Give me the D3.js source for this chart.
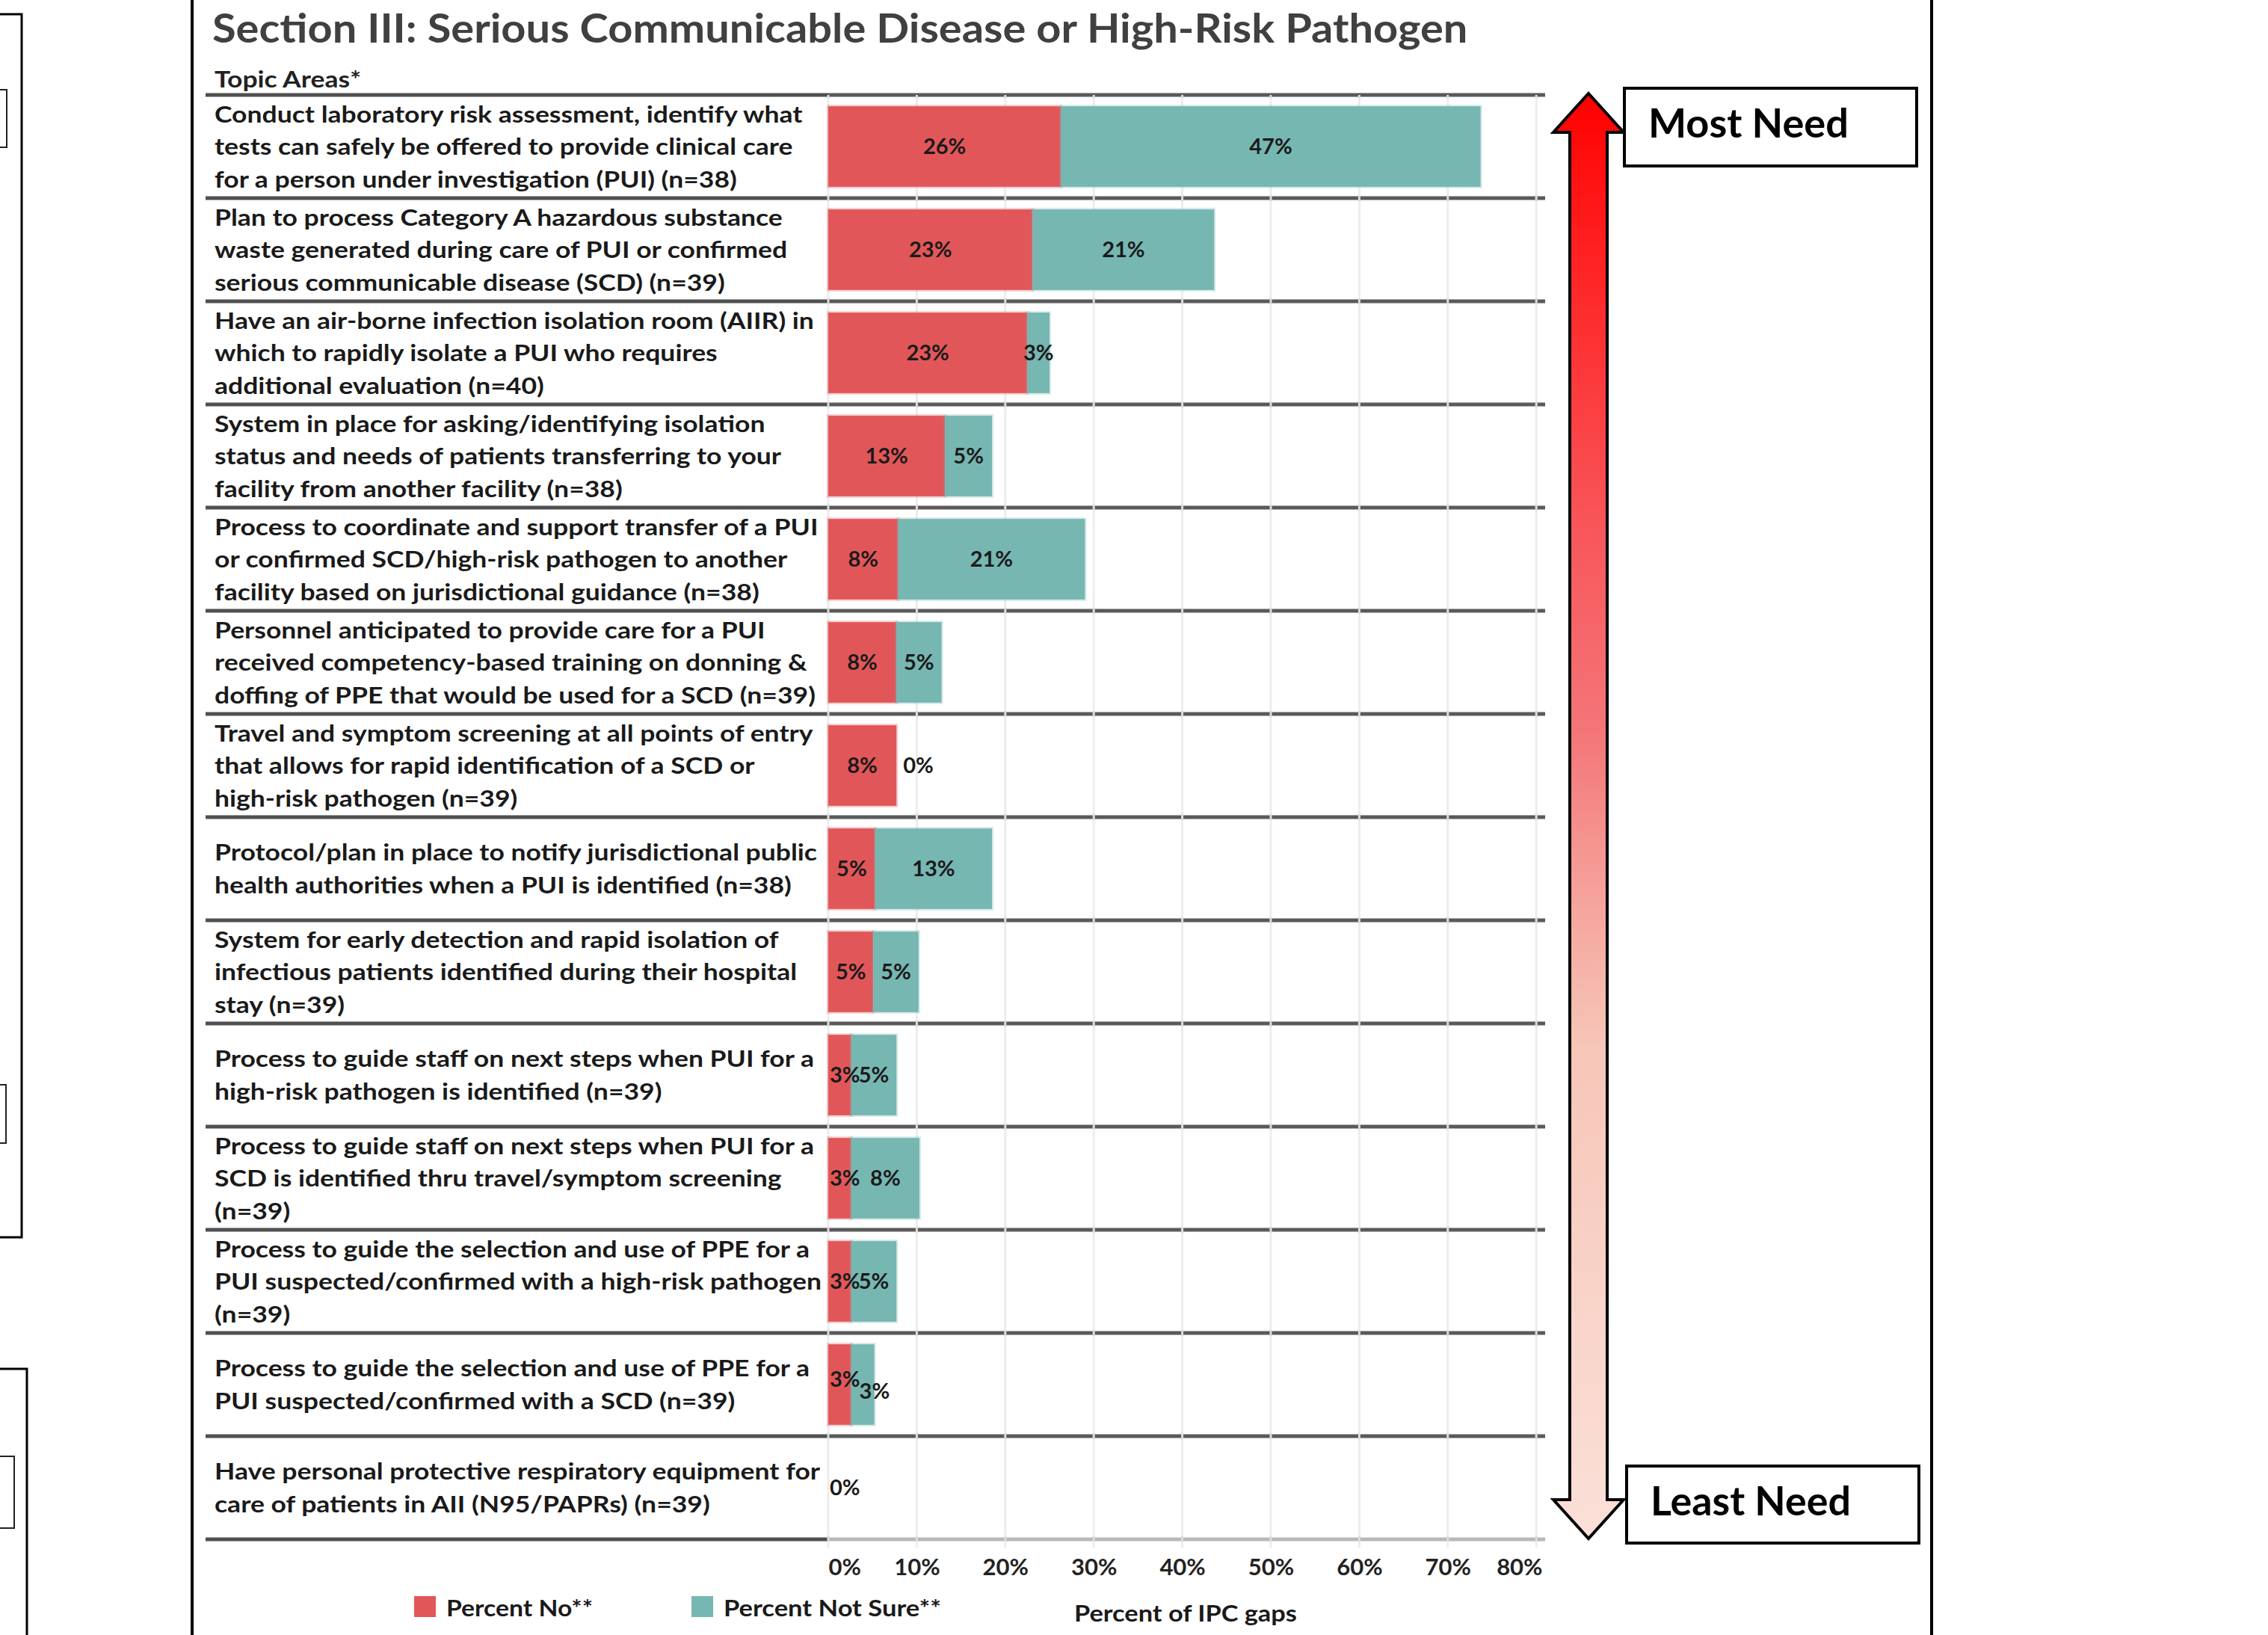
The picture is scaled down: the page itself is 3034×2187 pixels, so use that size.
<!DOCTYPE html>
<html>
<head>
<meta charset="utf-8">
<script src="https://cdn.jsdelivr.net/npm/d3@7"></script>
<style>
  body { margin: 0; background: #fff; }
  svg { display: block; font-family: Lato, "Open Sans", sans-serif; }
</style>
</head>
<body>
<div id="chart"></div>
<script>
// topic areas, one entry per row, already broken into lines as in the report
const topics = [
  ['Conduct laboratory risk assessment, identify what', 'tests can safely be offered to provide clinical care', 'for a person under investigation (PUI) (n=38)'],
  ['Plan to process Category A hazardous substance', 'waste generated during care of PUI or confirmed', 'serious communicable disease (SCD) (n=39)'],
  ['Have an air-borne infection isolation room (AIIR) in', 'which to rapidly isolate a PUI who requires', 'additional evaluation (n=40)'],
  ['System in place for asking/identifying isolation', 'status and needs of patients transferring to your', 'facility from another facility (n=38)'],
  ['Process to coordinate and support transfer of a PUI', 'or confirmed SCD/high-risk pathogen to another', 'facility based on jurisdictional guidance (n=38)'],
  ['Personnel anticipated to provide care for a PUI', 'received competency-based training on donning &', 'doffing of PPE that would be used for a SCD (n=39)'],
  ['Travel and symptom screening at all points of entry', 'that allows for rapid identification of a  SCD or', 'high-risk pathogen (n=39)'],
  ['Protocol/plan in place to notify jurisdictional public', 'health authorities when a PUI is identified (n=38)'],
  ['System for early detection and rapid isolation of', 'infectious patients identified during their hospital', 'stay (n=39)'],
  ['Process to guide staff on next steps when PUI for a', 'high-risk pathogen is identified (n=39)'],
  ['Process to guide staff on next steps when PUI for a', 'SCD is identified thru travel/symptom screening', '(n=39)'],
  ['Process to guide the selection and use of PPE for a', 'PUI suspected/confirmed with a high-risk pathogen', '(n=39)'],
  ['Process to guide the selection and use of PPE for a', 'PUI suspected/confirmed with a SCD (n=39)'],
  ['Have personal protective respiratory equipment for', 'care of patients in AII (N95/PAPRs) (n=39)']
];
const pctNo      = [26.3, 23.1, 22.5, 13.2, 7.9, 7.7, 7.7, 5.3, 5.1, 2.6, 2.6, 2.6, 2.6, 0];
const pctNotSure = [47.4, 20.5, 2.5, 5.3, 21.1, 5.1, 0, 13.2, 5.1, 5.1, 7.7, 5.1, 2.6, 0];
const xTicks = [0, 10, 20, 30, 40, 50, 60, 70, 80];
const seriesNames = ['Percent No**', 'Percent Not Sure**'];
const seriesColors = ['#e15759', '#76b7b2'];

const W = 3034, H = 2187;
const svg = d3.select('#chart').append('svg')
  .attr('width', W)
  .attr('height', H);

const x = d3.scaleLinear().domain([0, 81]).range([1108, 2067]);
const y = d3.scaleBand()
  .domain(d3.range(topics.length))
  .range([127, 2059])
  .paddingInner(0.22)
  .paddingOuter(0.11);
const step = y.step();
const top0 = y.range()[0];

// squeeze a text (drawn at x=0) horizontally so it spans w pixels from x0
function fitWidth(sel, x0, w) {
  const len = sel.node().getComputedTextLength();
  sel.attr('transform', `translate(${x0},0) scale(${w / len},1)`);
}

// frame lines / fragments of neighbouring panels
svg.append('line').attr('x1', 257).attr('x2', 257).attr('y1', 0).attr('y2', H)
  .attr('stroke', '#000').attr('stroke-width', 4);
svg.append('line').attr('x1', 2584).attr('x2', 2584).attr('y1', 0).attr('y2', H)
  .attr('stroke', '#000').attr('stroke-width', 4);
svg.append('rect').attr('x', -10).attr('y', 19).attr('width', 39).attr('height', 1636)
  .attr('fill', 'none').attr('stroke', '#000').attr('stroke-width', 3);
svg.append('rect').attr('x', -10).attr('y', 120).attr('width', 19).attr('height', 77)
  .attr('fill', 'none').attr('stroke', '#222').attr('stroke-width', 2);
svg.append('rect').attr('x', -10).attr('y', 1451).attr('width', 18).attr('height', 78)
  .attr('fill', 'none').attr('stroke', '#222').attr('stroke-width', 2);
svg.append('rect').attr('x', -10).attr('y', 1831).attr('width', 46).attr('height', 400)
  .attr('fill', 'none').attr('stroke', '#000').attr('stroke-width', 3);
svg.append('rect').attr('x', -10).attr('y', 1948).attr('width', 29).attr('height', 96)
  .attr('fill', 'none').attr('stroke', '#222').attr('stroke-width', 2);

// title
const title = svg.append('text')
  .attr('x', 0).attr('y', 57)
  .attr('font-size', 53).attr('font-weight', 'bold').attr('fill', '#404040')
  .text('Section III: Serious Communicable Disease or High-Risk Pathogen');
fitWidth(title, 284, 1680);

const header = svg.append('text')
  .attr('x', 0).attr('y', 117)
  .attr('font-size', 30).attr('font-weight', 'bold').attr('fill', '#222')
  .text('Topic Areas*');
fitWidth(header, 287, 196);

// gridlines
svg.append('g').selectAll('line')
  .data(xTicks)
  .enter().append('line')
  .attr('x1', d => x(d)).attr('x2', d => x(d))
  .attr('y1', top0).attr('y2', 2070)
  .attr('stroke', '#ededed').attr('stroke-width', 3);

// row separators
const seps = d3.range(topics.length + 1);
svg.append('g').selectAll('line')
  .data(seps)
  .enter().append('line')
  .attr('x1', 275).attr('x2', x.range()[0])
  .attr('y1', d => top0 + d * step).attr('y2', d => top0 + d * step)
  .attr('stroke', '#505050').attr('stroke-width', 5);
svg.append('g').selectAll('line')
  .data(seps)
  .enter().append('line')
  .attr('x1', x.range()[0]).attr('x2', x.range()[1])
  .attr('y1', d => top0 + d * step).attr('y2', d => top0 + d * step)
  .attr('stroke', d => d === topics.length ? '#b8b8b8' : '#5a5a5a')
  .attr('stroke-width', 5);
// gridline gaps cutting through the separators
svg.append('g').selectAll('line')
  .data(xTicks)
  .enter().append('line')
  .attr('x1', d => x(d)).attr('x2', d => x(d))
  .attr('y1', top0).attr('y2', 2062)
  .attr('stroke', '#dcdcdc').attr('stroke-width', 3)
  .attr('stroke-dasharray', d3.range(topics.length + 1).map(() => `8,${step - 8}`).join(','))
  .attr('stroke-dashoffset', 4);

// topic labels
const lineGap = 43.5;
const labelG = svg.append('g');
const labelText = labelG.selectAll('text')
  .data(topics)
  .enter().append('text')
  .attr('font-size', 31).attr('font-weight', 'bold').attr('fill', '#1a1a1a');
labelText.selectAll('tspan')
  .data((d, i) => d.map((t, j) => ({ t, j, n: d.length, i })))
  .enter().append('tspan')
  .attr('x', 0)
  .attr('y', d => top0 + (d.i + 0.5) * step + (d.j - (d.n - 1) / 2) * lineGap)
  .attr('dy', '0.36em')
  .text(d => d.t);
const refLen = labelText.select('tspan').node().getComputedTextLength();
labelG.attr('transform', `translate(287,0) scale(${787 / refLen},1)`);

// bars
const rows = svg.append('g').selectAll('g')
  .data(topics.map((t, i) => ({ i, no: pctNo[i], ns: pctNotSure[i] })))
  .enter().append('g');

rows.append('rect')
  .attr('x', x(0))
  .attr('y', d => y(d.i))
  .attr('width', d => x(d.no) - x(0))
  .attr('height', y.bandwidth())
  .attr('fill', seriesColors[0])
  .attr('stroke', seriesColors[0]).attr('stroke-opacity', 0.3).attr('stroke-width', 4);
rows.append('rect')
  .attr('x', d => x(d.no))
  .attr('y', d => y(d.i))
  .attr('width', d => x(d.no + d.ns) - x(d.no))
  .attr('height', y.bandwidth())
  .attr('fill', seriesColors[1])
  .attr('stroke', seriesColors[1]).attr('stroke-opacity', 0.3).attr('stroke-width', d => d.ns > 0 ? 4 : 2);

// bar value labels
const fmt = v => Math.round(v) + '%';
rows.each(function (d) {
  const g = d3.select(this);
  const cy = y(d.i) + y.bandwidth() / 2;
  const mk = (txt) => g.append('text')
    .attr('font-size', 29).attr('font-weight', 'bold').attr('fill', '#1a1a1a')
    .attr('dy', '0.36em').attr('y', cy).text(txt);
  if (d.no === 0 && d.ns === 0) {
    mk(fmt(0)).attr('x', x(0) + 2);
    return;
  }
  const red = mk(fmt(d.no));
  const rw = red.node().getComputedTextLength();
  const rx = Math.max((x(0) + x(d.no)) / 2 - rw / 2, x(0) + 2);
  red.attr('x', rx);
  const redEnd = rx + rw;
  const teal = mk(fmt(d.ns));
  const tw = teal.node().getComputedTextLength();
  if (d.ns === 0) {
    teal.attr('x', x(d.no) + 9);
    return;
  }
  const natural = (x(d.no) + x(d.no + d.ns)) / 2 - tw / 2;
  if (natural < redEnd - 10) {
    // labels would collide: step them apart as the report does
    red.attr('y', cy - 7);
    teal.attr('y', cy + 9).attr('x', redEnd - 1);
  } else {
    teal.attr('x', Math.max(natural, redEnd - 4));
  }
});

// x axis
const axis = svg.append('g')
  .attr('transform', 'translate(0,2082)')
  .call(d3.axisBottom(x).tickValues(xTicks).tickFormat(d => d + '%').tickSize(0).tickPadding(3));
axis.select('.domain').remove();
axis.selectAll('text')
  .attr('font-size', 31).attr('font-weight', 'bold')
  .attr('font-family', 'Lato, sans-serif').attr('fill', '#222');
axis.selectAll('.tick').filter(d => d === xTicks[0]).select('text')
  .attr('text-anchor', 'start').attr('x', 0);
axis.selectAll('.tick').filter(d => d === xTicks[xTicks.length - 1]).select('text')
  .attr('text-anchor', 'end').attr('x', x.range()[1] - 4 - x(xTicks[xTicks.length - 1]));

// legend
const legX = [554, 925];
const legW = [196, 291];
const leg = svg.append('g').selectAll('g')
  .data(seriesNames)
  .enter().append('g');
leg.append('rect')
  .attr('x', (d, i) => legX[i]).attr('y', 2135)
  .attr('width', 29).attr('height', 28)
  .attr('fill', (d, i) => seriesColors[i]);
leg.append('text')
  .attr('x', 0).attr('y', 2162)
  .attr('font-size', 31).attr('font-weight', 'bold').attr('fill', '#1a1a1a')
  .text(d => d)
  .each(function (d, i) { fitWidth(d3.select(this), legX[i] + 43, legW[i]); });

const xTitle = svg.append('text')
  .attr('x', 0).attr('y', 2169)
  .attr('font-size', 31).attr('font-weight', 'bold').attr('fill', '#1a1a1a')
  .text('Percent of IPC gaps');
fitWidth(xTitle, 1437, 298);

// need arrow
const defs = svg.append('defs');
const grad = defs.append('linearGradient')
  .attr('id', 'needGrad').attr('x1', 0).attr('x2', 0).attr('y1', 0).attr('y2', 1);
[[0, '#ff0000'], [0.1, '#ff1e1e'], [0.3, '#f8565a'], [0.44, '#f47578'], [0.56, '#f5a49c'],
 [0.66, '#f6c6b8'], [1, '#fbe0d8']].forEach(s => {
  grad.append('stop').attr('offset', s[0]).attr('stop-color', s[1]);
});
const ax = 2125, aTop = 125, aBot = 2058, headLen = 52, headHalf = 47, shaftHalf = 25;
const arrowPath = [
  [ax, aTop], [ax + headHalf, aTop + headLen], [ax + shaftHalf, aTop + headLen],
  [ax + shaftHalf, aBot - headLen], [ax + headHalf, aBot - headLen], [ax, aBot],
  [ax - headHalf, aBot - headLen], [ax - shaftHalf, aBot - headLen],
  [ax - shaftHalf, aTop + headLen], [ax - headHalf, aTop + headLen]
];
svg.append('path')
  .attr('d', d3.line()(arrowPath) + 'Z')
  .attr('fill', 'url(#needGrad)')
  .attr('stroke', '#000').attr('stroke-width', 4).attr('stroke-linejoin', 'miter');

// Most / Least need boxes
const boxes = [
  { label: 'Most Need', x: 2173, y: 118, h: 104, base: 184 },
  { label: 'Least Need', x: 2176, y: 1961, h: 103, base: 2027 }
];
boxes.forEach(b => {
  svg.append('rect')
    .attr('x', b.x).attr('y', b.y).attr('width', 391).attr('height', b.h)
    .attr('fill', '#fff').attr('stroke', '#000').attr('stroke-width', 4);
  const t = svg.append('text')
    .attr('x', 0).attr('y', b.base)
    .attr('font-size', 54).attr('font-weight', 'bold').attr('fill', '#000')
    .text(b.label);
  fitWidth(t, b.x + 32, 268);
});
</script>
</body>
</html>
